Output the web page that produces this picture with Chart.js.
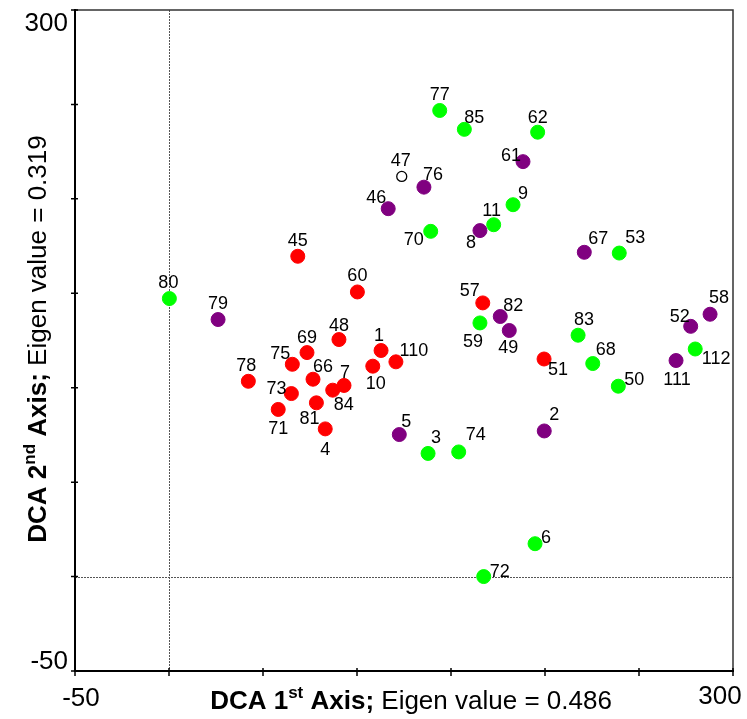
<!DOCTYPE html>
<html>
<head>
<meta charset="utf-8">
<title>DCA ordination</title>
<script src="https://cdn.jsdelivr.net/npm/chart.js@4/dist/chart.umd.min.js"></script>
<style>
  html, body { margin: 0; padding: 0; background: #fff; }
  #wrap { width: 747px; height: 719px; }
</style>
</head>
<body>
<div id="wrap"><canvas id="dca" width="747" height="719"></canvas></div>
<script>
// Sample numbers and their DCA scores on the first two axes
const sampleIds = ['1','4','7','10','45','48','51','57','60','66','69','71','73','75','78','81','84','110',
                   '2','5','8','46','49','52','58','61','67','76','79','82','111',
                   '3','6','9','11','50','53','59','62','68','70','72','74','77','80','83','85','112',
                   '47'];
const axis1Scores = [112.8, 83.1, 93.1, 108.4, 68.5, 90.4, 199.5, 166.9, 100.2, 76.6, 73.4, 58.1, 65.1, 65.6, 42.2, 78.4, 87.1, 120.7,
                     199.6, 122.5, 165.4, 116.6, 181.0, 277.5, 287.8, 188.3, 220.9, 135.6, 26.1, 176.2, 269.7,
                     137.8, 194.7, 183.0, 172.7, 239.0, 239.5, 165.4, 196.1, 225.4, 139.2, 167.4, 154.1, 144.0, 0.2, 217.6, 157.1, 279.9,
                     123.8];
const axis2Scores = [119.7, 78.2, 101.2, 111.4, 169.6, 125.5, 115.2, 144.9, 150.7, 104.5, 118.6, 88.5, 96.9, 112.4, 103.4, 92.0, 98.7, 113.7,
                     77.1, 75.2, 183.2, 194.8, 130.3, 132.5, 138.9, 219.7, 171.7, 206.2, 136.1, 137.7, 114.4,
                     65.2, 17.4, 196.9, 186.3, 100.8, 171.3, 134.3, 235.3, 112.8, 182.8, 0.0, 66.0, 246.8, 147.2, 127.8, 236.8, 120.5,
                     211.9];
const sampleGroups = ['A','A','A','A','A','A','A','A','A','A','A','A','A','A','A','A','A','A',
                      'B','B','B','B','B','B','B','B','B','B','B','B','B',
                      'C','C','C','C','C','C','C','C','C','C','C','C','C','C','C','C','C',
                      'D'];
const groupOrder = ['A', 'B', 'C', 'D'];

// Axis ticks (every 50) and the two labelled ends
const tickValues = [-50, 0, 50, 100, 150, 200, 250, 300];
const tickLabelValues = [-50, 300];

// ---- presentation ----
const groupStyle = {
  A: { fill: '#ff0000', stroke: '#ff0000', radius: 7, border: 1 },
  B: { fill: '#800080', stroke: '#800080', radius: 7, border: 1 },
  C: { fill: '#00ff00', stroke: '#00ff00', radius: 7, border: 1 },
  D: { fill: '#ffffff', stroke: '#000000', radius: 5, border: 1.3 }
};

// where each number sits relative to its dot (px)
const labelOffsets = {
  '1':[-2,-16], '4':[0,20], '7':[1,-14], '10':[3,16], '45':[0,-17], '48':[0,-15], '51':[14,10],
  '57':[-13,-13], '60':[0,-17], '66':[10,-14], '69':[0,-16], '71':[0,18], '73':[-15,-6], '75':[-12,-12],
  '78':[-2,-17], '81':[-7,15], '84':[11,13], '110':[18,-12],
  '2':[10,-17], '5':[7,-14], '8':[-9,11], '46':[-12,-12], '49':[-1,16], '52':[-11,-11], '58':[9,-18],
  '61':[-12,-7], '67':[14,-15], '76':[9,-14], '79':[0,-17], '82':[13,-12], '111':[1,18],
  '3':[8,-17], '6':[11,-7], '9':[10,-12], '11':[-2,-15], '50':[16,-8], '53':[16,-16], '59':[-7,18],
  '62':[0,-16], '68':[13,-15], '70':[-17,7], '72':[16,-6], '74':[17,-18], '77':[0,-17], '80':[-1,-17],
  '83':[6,-17], '85':[10,-13], '112':[21,9], '47':[-1,-17]
};

const FONT = '"Liberation Sans", Arial, Helvetica, sans-serif';

const datasets = groupOrder.map(g => {
  const st = groupStyle[g];
  const pts = [];
  sampleIds.forEach((id, i) => {
    if (sampleGroups[i] === g) pts.push({ x: axis1Scores[i], y: axis2Scores[i], id: id });
  });
  return {
    label: g,
    data: pts,
    backgroundColor: st.fill,
    borderColor: st.stroke,
    borderWidth: st.border,
    pointRadius: st.radius,
    pointHoverRadius: st.radius,
    pointStyle: 'circle'
  };
});

// drawing of frame, reference lines, ticks, titles and point numbers
const decorations = {
  id: 'decorations',
  beforeDatasetsDraw(chart) {
    const { ctx, chartArea: a, scales: { x, y } } = chart;
    ctx.save();
    ctx.strokeStyle = '#555';
    ctx.lineWidth = 1;
    ctx.setLineDash([2, 1]);
    const x0 = Math.round(x.getPixelForValue(0)) + 0.5;
    const y0 = Math.round(y.getPixelForValue(0)) + 0.5;
    ctx.beginPath();
    ctx.moveTo(x0, a.top); ctx.lineTo(x0, a.bottom);
    ctx.moveTo(a.left, y0); ctx.lineTo(a.right, y0);
    ctx.stroke();
    ctx.restore();
  },
  afterDatasetsDraw(chart) {
    const { ctx } = chart;
    ctx.save();
    ctx.font = '18px ' + FONT;
    ctx.fillStyle = '#000';
    ctx.textAlign = 'center';
    ctx.textBaseline = 'alphabetic';
    chart.data.datasets.forEach((ds, di) => {
      const meta = chart.getDatasetMeta(di);
      meta.data.forEach((el, i) => {
        const id = ds.data[i].id;
        const off = labelOffsets[id] || [0, -16];
        ctx.fillText(id, el.x + off[0], el.y + off[1] + 6.4);
      });
    });
    ctx.restore();
  },
  afterDraw(chart) {
    const { ctx, chartArea: a, scales: { x, y } } = chart;
    ctx.save();
    // frame
    ctx.strokeStyle = '#333';
    ctx.lineWidth = 1.5;
    ctx.beginPath();
    ctx.moveTo(a.left, a.top); ctx.lineTo(a.right, a.top); ctx.lineTo(a.right, a.bottom);
    ctx.stroke();
    ctx.strokeStyle = '#000';
    ctx.lineWidth = 2;
    ctx.beginPath();
    ctx.moveTo(a.left, a.top - 1); ctx.lineTo(a.left, a.bottom); ctx.lineTo(a.right + 1, a.bottom);
    ctx.stroke();
    // tick marks crossing the axes
    ctx.lineWidth = 1.5;
    ctx.beginPath();
    tickValues.forEach(v => {
      const px = x.getPixelForValue(v);
      ctx.moveTo(px, a.bottom - 3); ctx.lineTo(px, a.bottom + 5);
      const py = y.getPixelForValue(v);
      ctx.moveTo(a.left - 4, py); ctx.lineTo(a.left + 3, py);
    });
    ctx.stroke();
    // tick labels
    ctx.fillStyle = '#000';
    ctx.font = '26px ' + FONT;
    ctx.textBaseline = 'alphabetic';
    ctx.textAlign = 'right';
    tickLabelValues.forEach(v => {
      const py = y.getPixelForValue(v);
      const base = v === tickLabelValues[0] ? py - 2 : py + 21;
      ctx.fillText(String(v), a.left - 7, base);
    });
    ctx.textAlign = 'center';
    tickLabelValues.forEach(v => {
      const px = x.getPixelForValue(v);
      const cx = v === tickLabelValues[0] ? px + 6 : px - 13;
      const base = v === tickLabelValues[0] ? a.bottom + 35 : a.bottom + 33;
      ctx.fillText(String(v), cx, base);
    });
    // axis titles
    drawTitle(ctx, '1', 'st', ' Eigen value = 0.486', 411, 709, 0);
    drawTitle(ctx, '2', 'nd', ' Eigen value = 0.319', 46, 339, -Math.PI / 2);
    ctx.restore();
  }
};

function drawTitle(ctx, num, sup, rest, px, py, angle) {
  const parts = [
    { t: 'DCA ' + num, f: 'bold 26px ' + FONT, rise: 0 },
    { t: sup, f: 'bold 17px ' + FONT, rise: -11 },
    { t: ' Axis;', f: 'bold 26px ' + FONT, rise: 0 },
    { t: rest, f: '26px ' + FONT, rise: 0 }
  ];
  let total = 0;
  parts.forEach(p => { ctx.font = p.f; p.w = ctx.measureText(p.t).width; total += p.w; });
  ctx.save();
  ctx.translate(px, py);
  ctx.rotate(angle);
  ctx.textAlign = 'left';
  ctx.textBaseline = 'alphabetic';
  ctx.fillStyle = '#000';
  let cx = -total / 2;
  parts.forEach(p => {
    ctx.font = p.f;
    ctx.fillText(p.t, cx, p.rise);
    cx += p.w;
  });
  ctx.restore();
}

new Chart(document.getElementById('dca'), {
  type: 'scatter',
  data: { datasets },
  options: {
    responsive: false,
    animation: false,
    events: [],
    layout: { padding: { left: 75, top: 10, right: 14, bottom: 48 } },
    plugins: { legend: { display: false }, tooltip: { enabled: false } },
    scales: {
      x: { type: 'linear', min: -50, max: 300, display: false },
      y: { type: 'linear', min: -50, max: 300, display: false }
    }
  },
  plugins: [decorations]
});
</script>
</body>
</html>
